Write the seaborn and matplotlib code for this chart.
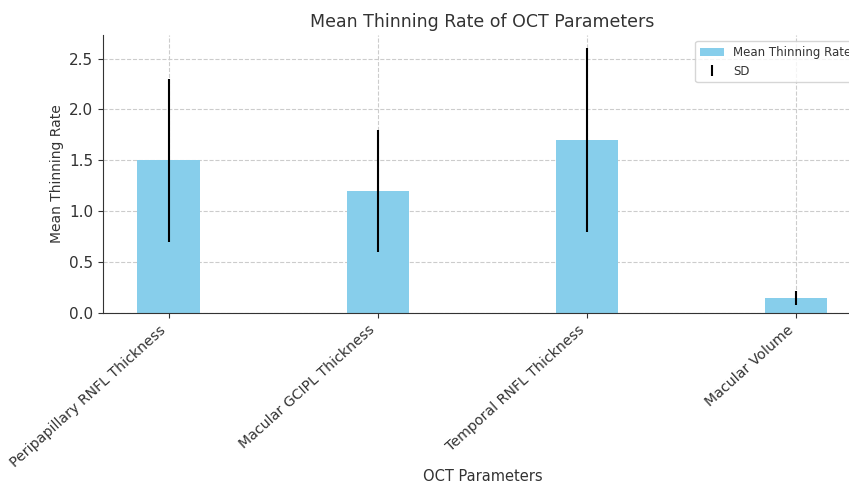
import matplotlib.pyplot as plt
import pandas as pd
import seaborn as sns

parameters = ['Peripapillary RNFL Thickness', 'Macular GCIPL Thickness',
              'Temporal RNFL Thickness', 'Macular Volume']
mean_rate = [1.5, 1.2, 1.7, 0.15]
sd = [0.8, 0.6, 0.9, 0.07]

df = pd.DataFrame({'Parameter': parameters, 'Mean': mean_rate, 'SD': sd})

txt = '#333333'
plt.rcParams['text.color'] = txt
plt.rcParams['axes.labelcolor'] = txt
plt.rcParams['xtick.color'] = txt
plt.rcParams['ytick.color'] = txt

fig = plt.figure(figsize=(8.49, 4.82), dpi=100)
ax = fig.add_axes([0.1213, 0.3506, 0.894, 0.5764])

sns.barplot(data=df, x='Parameter', y='Mean', color='skyblue', width=0.3,
            saturation=1, ax=ax, label='Mean Thinning Rate')
ax.errorbar(range(len(parameters)), df['Mean'], yerr=df['SD'], fmt='none',
            ecolor='black', elinewidth=1.5, capsize=0, label='SD')

ax.set_xlim(-0.315, 3.315)
ax.set_ylim(0, 2.73)
ax.set_title('Mean Thinning Rate of OCT Parameters', fontsize=12.5)
ax.set_xlabel('OCT Parameters', fontsize=10.5)
ax.xaxis.set_label_coords(0.5, -0.56)
ax.set_ylabel('Mean Thinning Rate', fontsize=10)
plt.setp(ax.get_xticklabels(), rotation=42, ha='right', fontsize=10.2)
ax.tick_params(axis='y', labelsize=11)
ax.grid(True, linestyle='--', color='#cccccc', linewidth=0.8)
ax.set_axisbelow(True)
sns.despine(ax=ax)
ax.spines['left'].set_color('#333333')
ax.spines['bottom'].set_color('#333333')
ax.legend(loc='upper right', fontsize=8.5, bbox_to_anchor=(1.0, 1.0))

fig.savefig('out.png', dpi=100)
